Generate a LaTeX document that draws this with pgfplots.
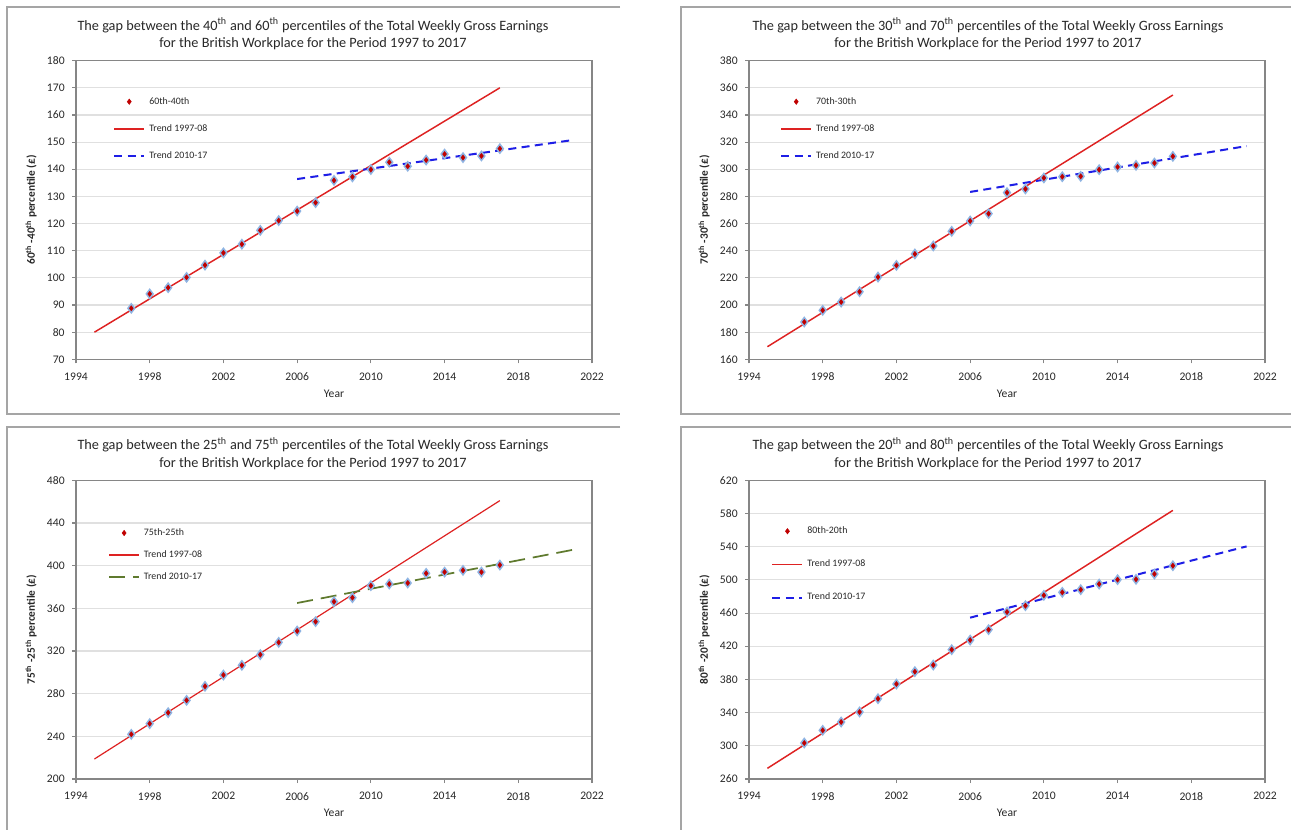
\documentclass[border=0pt]{standalone}
\usepackage{pgfplots}
\pgfplotsset{compat=1.18}
\usepackage{fontspec}
\setmainfont{Carlito}
\definecolor{dotred}{RGB}{192,0,0}
\definecolor{glow}{RGB}{142,180,227}
\definecolor{trendred}{RGB}{222,34,34}
\definecolor{trendblue}{RGB}{30,30,230}
\definecolor{trendgreen}{RGB}{95,122,46}
\definecolor{axgray}{RGB}{134,134,134}
\definecolor{framegray}{RGB}{165,165,165}
\definecolor{txt}{RGB}{40,40,40}

\pgfplotsset{
  panel/.style={
    scale only axis, width=387pt, height=224pt,
    xmin=1994, xmax=2022, xtick={1994,1998,...,2022},
    tick pos=left, tick align=outside, major tick length=3pt,
    axis line style={axgray, line width=0.8pt},
    major tick style={axgray, line width=0.8pt},
    ymajorgrids, major grid style={draw=black!12, line width=0.8pt},
    x tick label style={/pgf/number format/1000 sep={}, yshift=-3.5pt},
    /pgf/number format/assume math mode=true,
    tick label style={font=\fontsize{8.7}{10}\selectfont, text=txt},
    y tick label style={xshift=-2pt},
    xlabel={Year},
    every axis x label/.style={at={(axis description cs:0.5,-0.114)}, anchor=center, font=\fontsize{8.7}{10}\selectfont, text=txt},
    every axis y label/.style={at={(axis description cs:-0.087,0.5)}, rotate=90, anchor=center, font=\fontsize{8.5}{10}\selectfont\bfseries, text=txt},
    legend image code/.code={\pgfpathrectangle{\pgfqpoint{0pt}{-2pt}}{\pgfqpoint{22.5pt}{4pt}}\pgfusepath{}\draw[mark repeat=2,mark phase=2,##1] plot coordinates {(0pt,0pt) (11.25pt,0pt) (22.5pt,0pt)};},
    legend cell align=left,
    legend style={draw=none, fill=none, inner sep=0pt, font=\fontsize{7.4}{8}\selectfont,
      nodes={inner sep=0pt, text height=5pt, text depth=1.5pt, text=txt},
      /tikz/every odd column/.append style={column sep=3pt}},
  },
  pts/.style={only marks, mark=diamond*, mark size=3.4pt, mark options={fill=dotred, draw=glow, line width=1.1pt}},
  t1/.style={no marks, draw=trendred, line width=1.1pt},
  t2/.style={no marks, draw=trendblue, line width=1.5pt, dash pattern=on 6pt off 4pt},
  t2g/.style={no marks, draw=trendgreen, line width=1.3pt, dash pattern=on 12pt off 6pt},
  legpt/.style={only marks, mark=diamond*, mark size=2pt, mark options={fill=dotred, draw=dotred}},
}

\begin{document}
\begin{tikzpicture}
\path[use as bounding box, fill=white] (0pt,0pt) rectangle (968.25pt,-622.5pt);
\draw[framegray, line width=1pt] (465pt,-5.25pt) -- (5.25pt,-5.25pt) -- (5.25pt,-310.5pt) -- (465pt,-310.5pt);
\draw[framegray, line width=1pt] (968.25pt,-5.25pt) -- (510.75pt,-5.25pt) -- (510.75pt,-310.5pt) -- (968.25pt,-310.5pt);
\draw[framegray, line width=1pt] (465pt,-320.25pt) -- (5.25pt,-320.25pt) -- (5.25pt,-622.5pt);
\draw[framegray, line width=1pt] (968.25pt,-320.25pt) -- (510.75pt,-320.25pt) -- (510.75pt,-622.5pt);

\node[align=center, font=\fontsize{10.7}{13}\selectfont, text=txt] at (234.75pt,-25.3pt)
  {The gap between the 40\textsuperscript{th} and 60\textsuperscript{th} percentiles of the Total Weekly Gross Earnings\\for the British Workplace for the Period 1997 to 2017};
\node[align=center, font=\fontsize{10.7}{13}\selectfont, text=txt] at (741pt,-25.3pt)
  {The gap between the 30\textsuperscript{th} and 70\textsuperscript{th} percentiles of the Total Weekly Gross Earnings\\for the British Workplace for the Period 1997 to 2017};
\node[align=center, font=\fontsize{10.7}{13}\selectfont, text=txt] at (234.75pt,-340.1pt)
  {The gap between the 25\textsuperscript{th} and 75\textsuperscript{th} percentiles of the Total Weekly Gross Earnings\\for the British Workplace for the Period 1997 to 2017};
\node[align=center, font=\fontsize{10.7}{13}\selectfont, text=txt] at (741pt,-340.1pt)
  {The gap between the 20\textsuperscript{th} and 80\textsuperscript{th} percentiles of the Total Weekly Gross Earnings\\for the British Workplace for the Period 1997 to 2017};

% Panel 1
\begin{axis}[panel, anchor=south west, at={(57pt,-269.5pt)},
  ymin=70, ymax=180, ytick distance=10,
  ylabel={60\textsuperscript{th} -40\textsuperscript{th} percentile (£)},
  legend style={at={(axis description cs:0.0717,0.878)}, anchor=north west,
    /tikz/row sep=14pt}]
\addlegendimage{legpt}
\addlegendimage{t1}
\addlegendimage{t2}
\addplot[t1, forget plot] coordinates {(1995,80) (2017,170)};
\addplot[t2, forget plot] coordinates {(2006,136.4) (2021,150.8)};
\addplot[pts, forget plot] coordinates {
(1997,88.8) (1998,94.1) (1999,96.4) (2000,100.2) (2001,104.7) (2002,109.2) (2003,112.4)
(2004,117.5) (2005,121.1) (2006,124.6) (2007,127.7) (2008,135.9) (2009,137.2) (2010,139.9)
(2011,142.6) (2012,141.1) (2013,143.4) (2014,145.6) (2015,144.3) (2016,144.9) (2017,147.6)};
\legend{60th-40th, Trend 1997-08, Trend 2010-17}
\end{axis}

% Panel 2
\begin{axis}[panel, anchor=south west, at={(561.75pt,-269.5pt)},
  ymin=160, ymax=380, ytick distance=20,
  ylabel={70\textsuperscript{th} -30\textsuperscript{th} percentile (£)},
  legend style={at={(axis description cs:0.060,0.878)}, anchor=north west,
    /tikz/row sep=14pt}]
\addlegendimage{legpt}
\addlegendimage{t1}
\addlegendimage{t2}
\addplot[t1, forget plot] coordinates {(1995,169.3) (2017,354.7)};
\addplot[t2, forget plot] coordinates {(2006,283.3) (2021,317.1)};
\addplot[pts, forget plot] coordinates {
(1997,187.5) (1998,196.1) (1999,202.2) (2000,209.8) (2001,220.6) (2002,229.2) (2003,237.6)
(2004,243.5) (2005,254.3) (2006,261.9) (2007,267.3) (2008,282.8) (2009,285.5) (2010,293.6)
(2011,294.5) (2012,294.8) (2013,299.7) (2014,301.7) (2015,302.9) (2016,304.6) (2017,309.5)};
\legend{70th-30th, Trend 1997-08, Trend 2010-17}
\end{axis}

% Panel 3
\begin{axis}[panel, anchor=south west, at={(57pt,-584.25pt)},
  ymin=200, ymax=480, ytick={200,240,...,480},
  ylabel={75\textsuperscript{th} -25\textsuperscript{th} percentile (£)},
  legend style={at={(axis description cs:0.062,0.839)}, anchor=north west,
    /tikz/row sep=10pt}]
\addlegendimage{legpt}
\addlegendimage{t1, line width=0.9pt}
\addlegendimage{t2g}
\addplot[t1, line width=0.9pt, forget plot] coordinates {(1995,218.75) (2017,461)};
\addplot[t2g, forget plot] coordinates {(2006,365) (2021,415)};
\addplot[pts, forget plot] coordinates {
(1997,241.9) (1998,251.9) (1999,262.2) (2000,273.75) (2001,286.9) (2002,297.5) (2003,306.6)
(2004,316.6) (2005,328.1) (2006,338.75) (2007,347.5) (2008,366.25) (2009,370) (2010,381.25)
(2011,382.8) (2012,383.75) (2013,392.8) (2014,394) (2015,395.6) (2016,394) (2017,400.6)};
\legend{75th-25th, Trend 1997-08, Trend 2010-17}
\end{axis}

% Panel 4
\begin{axis}[panel, anchor=south west, at={(561.75pt,-584.25pt)},
  ymin=260, ymax=620, ytick={260,300,...,620},
  ylabel={80\textsuperscript{th} -20\textsuperscript{th} percentile (£)},
  legend style={at={(axis description cs:0.043,0.845)}, anchor=north west,
    /tikz/row sep=18.4pt}]
\addlegendimage{legpt}
\addlegendimage{t1, line width=1.2pt}
\addlegendimage{t2}
\addplot[t1, forget plot] coordinates {(1995,272.9) (2017,583.8)};
\addplot[t2, forget plot] coordinates {(2006,454.5) (2021,540.4)};
\addplot[pts, forget plot] coordinates {
(1997,303.4) (1998,318.7) (1999,328.7) (2000,340.8) (2001,356.8) (2002,374.5) (2003,389.4)
(2004,397.4) (2005,415.9) (2006,427.5) (2007,440) (2008,461.3) (2009,468.9) (2010,481.4)
(2011,485) (2012,488.2) (2013,495) (2014,500.3) (2015,500.7) (2016,507.1) (2017,517.1)};
\legend{80th-20th, Trend 1997-08, Trend 2010-17}
\end{axis}
\end{tikzpicture}
\end{document}
